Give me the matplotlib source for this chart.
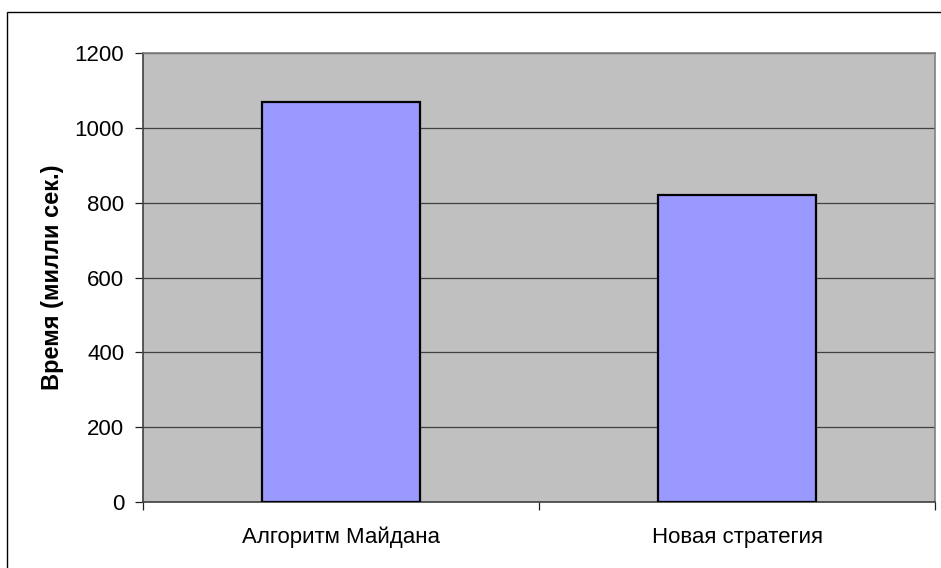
import matplotlib.pyplot as plt
from matplotlib.patches import Rectangle

plt.rcParams['font.family'] = ['Liberation Sans', 'DejaVu Sans']

# время выполнения, мс
methods = ['Алгоритм Майдана', 'Новая стратегия']
times = [1070, 820]
yticks = [0, 200, 400, 600, 800, 1000, 1200]

fig = plt.figure(figsize=(9.41, 5.68), dpi=100)
ax = fig.add_axes([143/941, 1-502/568, 792/941, 449/568])
ax.set_facecolor('#C0C0C0')

# outer chart frame
fig.patches.append(Rectangle((7/941, -0.1), 1.1, 1-12/568+0.1, transform=fig.transFigure,
                             fill=False, edgecolor='black', linewidth=1.0))

x = list(range(len(methods)))
ax.bar(x, times, width=0.4, color='#9999FF', edgecolor='black', linewidth=1.6, zorder=3)

ax.set_xlim(-0.5, 1.5)
ax.set_ylim(0, 1200)
ax.set_yticks(yticks)
ax.yaxis.grid(True, color='#404040', linewidth=0.9, zorder=1)
ax.set_axisbelow(True)

ax.set_xticks([-0.5, 0.5, 1.5])
ax.set_xticklabels([])
ax.set_xticks(x, minor=True)
ax.set_xticklabels(methods, minor=True)
ax.tick_params(axis='x', which='minor', length=0, pad=18, labelsize=16)
ax.tick_params(axis='x', which='major', length=6, width=0.9, color='#202020')
ax.tick_params(axis='y', length=6, width=0.9, color='#202020', labelsize=16, pad=7.5)

for side in ['top', 'right']:
    ax.spines[side].set_color('#808080')
    ax.spines[side].set_linewidth(1.2)
for side in ['left', 'bottom']:
    ax.spines[side].set_color('#404040')
    ax.spines[side].set_linewidth(1.2)

ax.set_ylabel('Время (милли сек.)', fontsize=17, fontweight='bold', labelpad=7.5)

fig.savefig('out.png', dpi=100, facecolor='white')
